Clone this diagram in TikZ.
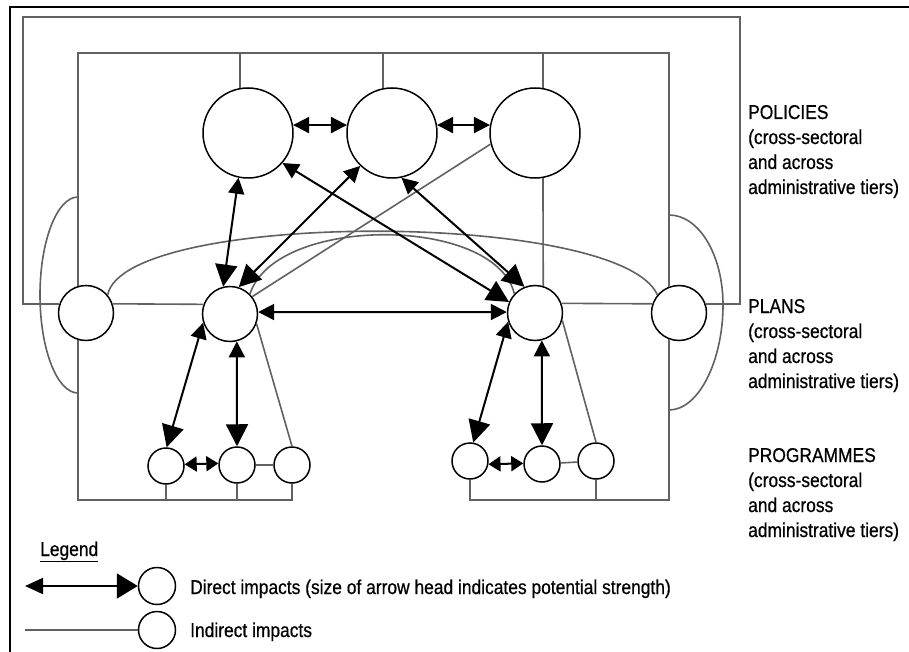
\documentclass[tikz,border=0pt]{standalone}
\usepackage{fontspec}
\setmainfont{Liberation Sans}[FakeStretch=0.87,FakeBold=0.6]
\usetikzlibrary{arrows.meta}
\tikzset{
  bT/.tip={Triangle[length=22pt,width=22pt]},
  mT/.tip={Triangle[length=16pt,width=16pt]},
  sT/.tip={Triangle[length=12pt,width=15pt]}
}
\begin{document}
\begin{tikzpicture}[x=1pt,y=-1pt,
  unit/.style={circle,draw=black,line width=1.5pt,inner sep=0pt},
  pol/.style={unit,minimum size=90pt},
  plan/.style={unit,minimum size=55pt},
  prog/.style={unit,minimum size=36pt},
  key/.style={unit,minimum size=37pt},
  indirect/.style={draw=black!62,line width=1.6pt},
  direct/.style={draw=black,line width=2pt},
  lab/.style={anchor=base west,inner sep=0pt,font=\fontsize{20}{25}\selectfont},
  frame/.style={draw=black,line width=2.5pt}
]
\useasboundingbox[fill=white] (0,0) rectangle (909,652);

% outer frame
\coordinate (fB) at (10,652);
\coordinate (fC) at (10,7);
\coordinate (fR) at (909,7);
\draw[frame] (fB) -- (fC) -- (fR);

% policies, plans, programmes
\node[pol] (P1) at (248,133) {};
\node[pol] (P2) at (392,133) {};
\node[pol] (P3) at (535,133) {};
\node[plan] (PL0) at (86,313) {};
\node[plan] (PL1) at (230,314) {};
\node[plan] (PL2) at (535,313) {};
\node[plan] (PL3) at (679,313) {};
\node[prog] (R1) at (166,466) {};
\node[prog] (R2) at (237,465) {};
\node[prog] (R3) at (292,465) {};
\node[prog] (R4) at (470,461) {};
\node[prog] (R5) at (542,464) {};
\node[prog] (R6) at (596,461) {};

% helper coordinates for the frames of indirect links
\coordinate (oTL) at (23,17);
\coordinate (oTR) at (740,17);
\coordinate (iT) at (0,53);
\coordinate (bot) at (0,500);
\coordinate (lA) at (78,197);
\coordinate (lB) at (78,393);
\coordinate (rA) at (669,215);
\coordinate (rB) at (669,410);

% indirect impacts
\draw[indirect] (PL0.161) -- (PL0.161 -| oTL) -- (oTL) -- (oTR) -- (PL3.19 -| oTR) -- (PL3.19);
\draw[indirect] (PL0.107) -- (PL0.107 |- iT) -- (PL3.111 |- iT) -- (PL3.111);
\draw[indirect] (P1.100) -- (P1.100 |- iT);
\draw[indirect] (P2.101) -- (P2.101 |- iT);
\draw[indirect] (P3.80) -- (P3.80 |- iT);
\draw[indirect] (P3.280) -- (PL2.73);
\draw[indirect] (PL0.19) -- (PL1.160);
\draw[indirect] (PL2.20) -- (PL3.161);
\draw[indirect] (PL0.253) -- (PL0.253 |- bot) -- (R3.south |- bot) -- (R3.south);
\draw[indirect] (R1.south) -- (R1.south |- bot);
\draw[indirect] (R2.south) -- (R2.south |- bot);
\draw[indirect] (PL3.249) -- (PL3.249 |- bot) -- (R4.south |- bot) -- (R4.south);
\draw[indirect] (R6.south) -- (R6.south |- bot);
\draw[indirect] (R2) -- (R3);
\draw[indirect] (R5) -- (R6);
\draw[indirect] (PL1.340) -- (R3.north);
\draw[indirect] (PL2.345) -- (R6.north);
\draw[indirect] (P3.194) -- (PL1.38);
\draw[indirect] (PL0.40) .. controls (125,210) and (620,210) .. (PL3.140);
\draw[indirect] (PL1.45) .. controls (275,215) and (495,215) .. (PL2.137);
\draw[indirect] (lA) .. controls (57,197) and (40,241) .. (40,295) .. controls (40,349) and (57,393) .. (lB);
\draw[indirect] (rA) .. controls (699,215) and (723,255) .. (723,305) .. controls (723,360) and (699,410) .. (rB);

% direct impacts
\draw[direct,mT-mT] (P1.10) -- (P2.170);
\draw[direct,mT-mT] (P2.10) -- (P3.170);
\draw[direct,mT-bT] (P1.258) -- (PL1.104);
\draw[direct,mT-bT] (P2.226) -- (PL1.72);
\draw[direct,mT-bT] (P1.319) -- (PL2.157);
\draw[direct,mT-bT] (P2.282) -- (PL2.112);
\draw[direct,mT-mT] (PL1.4) -- (PL2.178);
\draw[direct,mT-bT] (PL1.198) -- (R1.88);
\draw[direct,mT-bT] (PL1.284) -- (R2.north);
\draw[direct,sT-sT] (R1.5) -- (R2.175);
\draw[direct,mT-bT] (PL2.198) -- (R4.80);
\draw[direct,mT-bT] (PL2.284) -- (R5.north);
\draw[direct,sT-sT] (R4.350) -- (R5.178);

% tier labels
\node[lab] (polA) at (748,119) {POLICIES};
\node[lab] (polB) at (748,144) {(cross-sectoral};
\node[lab] (polC) at (748,169) {and across};
\node[lab] (polD) at (748,194) {administrative tiers)};
\node[lab] (plaA) at (748,313) {PLANS};
\node[lab] (plaB) at (748,338) {(cross-sectoral};
\node[lab] (plaC) at (748,363) {and across};
\node[lab] (plaD) at (748,388) {administrative tiers)};
\node[lab] (proA) at (748,462) {PROGRAMMES};
\node[lab] (proB) at (748,487) {(cross-sectoral};
\node[lab] (proC) at (748,512) {and across};
\node[lab] (proD) at (748,537) {administrative tiers)};

% legend
\node[lab] (leg) at (40,556) {\underline{Legend}};
\node[key] (K1) at (157,586) {};
\node[key] (K2) at (157,630) {};
\coordinate (k1s) at (25,586);
\coordinate (k2s) at (25,630);
\draw[direct,{Triangle[length=18pt,width=16pt]}-{Triangle[length=21pt,width=25pt]}] (k1s) -- (K1.west);
\draw[indirect] (k2s) -- (K2.west);
\node[lab] (kt1) at (190,594) {Direct impacts (size of arrow head indicates potential strength)};
\node[lab] (kt2) at (190,637) {Indirect impacts};
\end{tikzpicture}
\end{document}
